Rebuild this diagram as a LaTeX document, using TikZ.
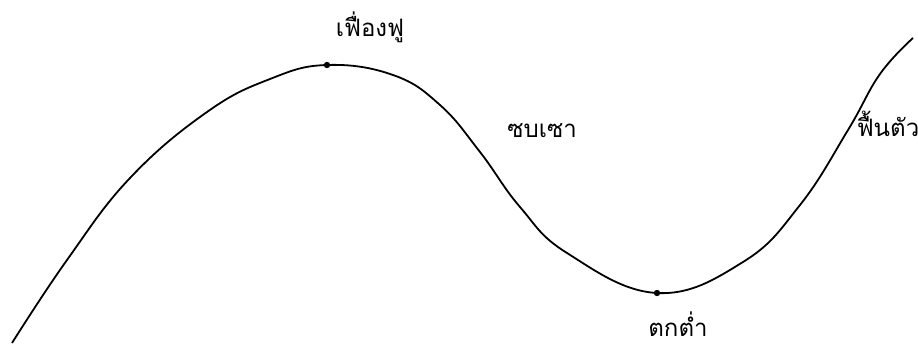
\documentclass[tikz,border=0pt]{standalone}
\usepackage{fontspec}
\newfontfamily\thaifont[Script=Thai]{Loma}
\usetikzlibrary{positioning}
\tikzset{phase/.style={font=\thaifont\fontsize{24}{28}\selectfont,inner sep=0pt}}
\begin{document}
\begin{tikzpicture}[x=1pt,y=-1pt,line width=1.8pt]
\useasboundingbox (0,0) rectangle (918,345);
\coordinate (peak) at (327,65);\coordinate (bottom) at (657,293);
\draw plot[smooth,tension=.7] coordinates {(12,343) (67,260) (130,178) (207,112) (270,79) (peak) (393,75) (440,105) (480,152) (520,207) (567,253) (bottom) (743,262) (800,205) (848,130) (880,74) (913,38)};
\fill (peak) circle (3.2);\fill (bottom) circle (3.2);
\node[phase] (boom) at (370,27){เฟื่องฟู};\node[phase] (recess) at (542,131){ซบเซา};
\node[phase] (recover) at (888,124){ฟื้นตัว};\node[phase] (slump) at (678,324){ตกต่ำ};
\end{tikzpicture}
\end{document}
